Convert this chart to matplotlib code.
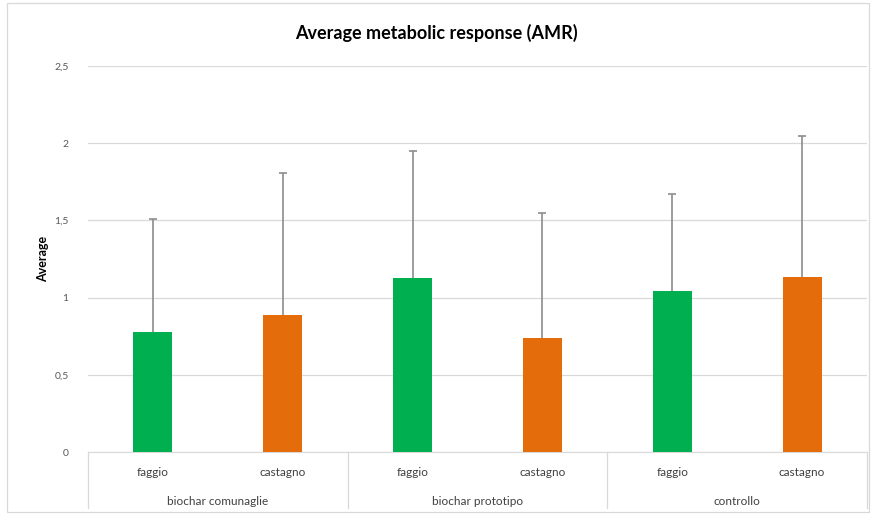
import matplotlib
matplotlib.use("Agg")
import matplotlib.pyplot as plt
import matplotlib.transforms as mtransforms
from matplotlib.patches import Rectangle
import numpy as np

plt.rcParams['font.family'] = ['Lato', 'DejaVu Sans']

groups = ["biochar comunaglie", "biochar prototipo", "controllo"]
species = ["faggio", "castagno"]
means = [0.78, 0.89, 1.13, 0.74, 1.045, 1.135]
upper = [1.51, 1.81, 1.95, 1.545, 1.67, 2.045]
colors_by_species = {"faggio": "#00B050", "castagno": "#E46C0A"}
yticks = [0, 0.5, 1, 1.5, 2, 2.5]
ytick_labels = ["0", "0,5", "1", "1,5", "2", "2,5"]

fig = plt.figure(figsize=(8.72, 5.15), dpi=100)
ax = fig.add_axes([88/872, 1-452/515, 779/872, 386/515])

n = len(means)
x = np.arange(n)
labels = [species[i % 2] for i in range(n)]
cols = [colors_by_species[l] for l in labels]
err = np.array(upper) - np.array(means)

ax.bar(x, means, width=0.3, color=cols, zorder=3)
ax.errorbar(x, means, yerr=[np.zeros(n), err], fmt='none', ecolor='#8c8c8c',
            elinewidth=1.2, capsize=0, zorder=4)
ax.plot(x, upper, linestyle='none', marker='_', markersize=6, mew=1.2,
        color='#8c8c8c', zorder=4)

ax.set_xlim(-0.5, n - 0.5)
ax.set_ylim(0, 2.5)
ax.set_yticks(yticks)
ax.set_yticklabels(ytick_labels, fontsize=7.5, color='#595959')
ax.yaxis.grid(True, color='#d9d9d9', lw=0.9, zorder=0)
ax.tick_params(axis='y', length=0, pad=14)
ax.tick_params(axis='x', length=0)
ax.set_xticks([])
for s in ['top', 'right', 'left']:
    ax.spines[s].set_visible(False)
ax.spines['bottom'].set_color('#d9d9d9')

trans = mtransforms.blended_transform_factory(ax.transData, ax.transAxes)
for i, l in enumerate(labels):
    ax.text(x[i], -0.052, l, transform=trans, ha='center', va='center',
            fontsize=8.5, color='#404040')
for g, name in enumerate(groups):
    ax.text(2*g + 0.5, -0.127, name, transform=trans, ha='center', va='center',
            fontsize=8.5, color='#404040')
for b in [-0.5, 1.5, 3.5, 5.5]:
    ax.plot([b, b], [0, -0.145], transform=trans, color='#d9d9d9', lw=0.9,
            clip_on=False)

ax.set_ylabel("Average", fontsize=9, fontweight='bold', labelpad=4)
fig.text(0.5, 1-33/515, "Average metabolic response (AMR)", ha='center', va='center',
         fontsize=13, fontweight='bold', color='#000000')

fig.patches.append(Rectangle((7/872, 1-512/515), 862/872, 509/515, transform=fig.transFigure,
                             fill=False, edgecolor='#d9d9d9', lw=0.9))

fig.savefig("out.png", dpi=100)
